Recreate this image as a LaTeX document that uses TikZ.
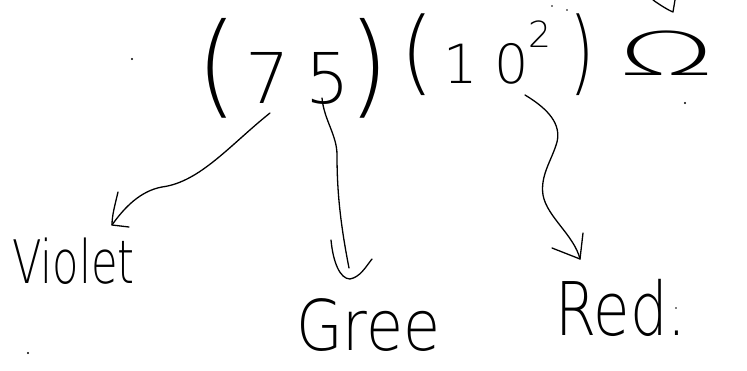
\documentclass[tikz,border=0pt]{standalone}
\usepackage{fontspec}
\IfFontExistsTF{DejaVu Sans ExtraLight}
  {\newfontfamily\hand{DejaVu Sans ExtraLight}}
  {\IfFontExistsTF{Fira Sans Light}
     {\newfontfamily\hand{Fira Sans Light}}
     {\newfontfamily\hand{Fira Sans}}}
\newcommand\handsize[1]{\fontsize{#1}{#1}\selectfont}
\usetikzlibrary{calc}

\begin{document}
\begin{tikzpicture}[x=1pt, y=-1pt,
    ink/.style={line width=1.3pt, line cap=round, line join=round},
    lbl/.style={inner sep=0pt, font=\hand},
    speck/.style={fill=black}]
  \useasboundingbox (0,0) rectangle (747,371);
  \fill[white] (0,0) rectangle (747,371);

  % the resistance written out
  \node[lbl, anchor=base west] (g1) at (196,104)
    {\handsize{70}\scalebox{1.5}[1.6]{(}\hspace{8pt}7\hspace{16pt}5\hspace{-2pt}\scalebox{1.5}[1.6]{)}};
  \node[lbl, anchor=base west] (g2) at (400,84)
    {\handsize{54}\scalebox{1.6}[1.7]{(}\hspace{10pt}1\hspace{16pt}0\raisebox{36pt}{\handsize{36}2}\hspace{18pt}\scalebox{1.2}[1.7]{)}};
  \node[lbl, anchor=base west] (ohm) at (618,76)
    {\handsize{60}\scalebox{2.1}[1]{Ω}};

  % colour bands
  \node[lbl, anchor=base west] (violet) at (12,284) {\handsize{60}\scalebox{0.72}[1]{Violet}};
  \node[lbl, anchor=base west] (gree) at (296,350) {\handsize{70}\scalebox{0.86}[1]{Gree}};
  \node[lbl, anchor=base west] (red) at (555,335) {\handsize{74}\scalebox{0.8}[1]{Red.}};

  % arrow ends
  \coordinate (v0) at (270,113);   \coordinate (vtip) at (112,225);
  \coordinate (gn0) at (322,98);   \coordinate (gtip) at (350,279);
  \coordinate (r0) at (525,95);    \coordinate (rtip) at (580,259);

  % 7 -> Violet
  \draw[ink] (v0) .. controls (230,145) and (200,182) .. (162,187)
                  .. controls (140,191) and (124,208) .. (vtip);
  \draw[ink] (118,192) .. controls (115,205) and (112,215) .. (vtip) -- (129,227);

  % 5 -> Gree
  \draw[ink] (gn0) .. controls (324,120) and (337,135) .. (337,155)
                   .. controls (337,190) and (340,222) .. (349,268);
  \draw[ink] (331,240) .. controls (333,262) and (340,279) .. (gtip)
                       .. controls (360,277) and (365,268) .. (372,259);

  % 10^2 -> Red
  \draw[ink] (r0) .. controls (550,110) and (561,125) .. (557,142)
                  .. controls (552,160) and (540,175) .. (543,195)
                  .. controls (547,217) and (574,235) .. (rtip);
  \draw[ink] (552,248) -- (rtip) -- (583,233);

  % stroke running off the top edge
  \draw[ink] (653,0) .. controls (660,5) and (668,10) .. (673,12) -- (675,0);

  % stray pen marks
  \fill[speck] (132,59) circle (1.1pt);
  \fill[speck] (28,353) circle (1.1pt);
  \fill[speck] (685,103) circle (1.1pt);
  \fill[speck] (676,308) circle (0.9pt);
  \fill[speck] (552,6) circle (0.8pt);
  \fill[speck] (567,10) circle (0.8pt);
\end{tikzpicture}
\end{document}
